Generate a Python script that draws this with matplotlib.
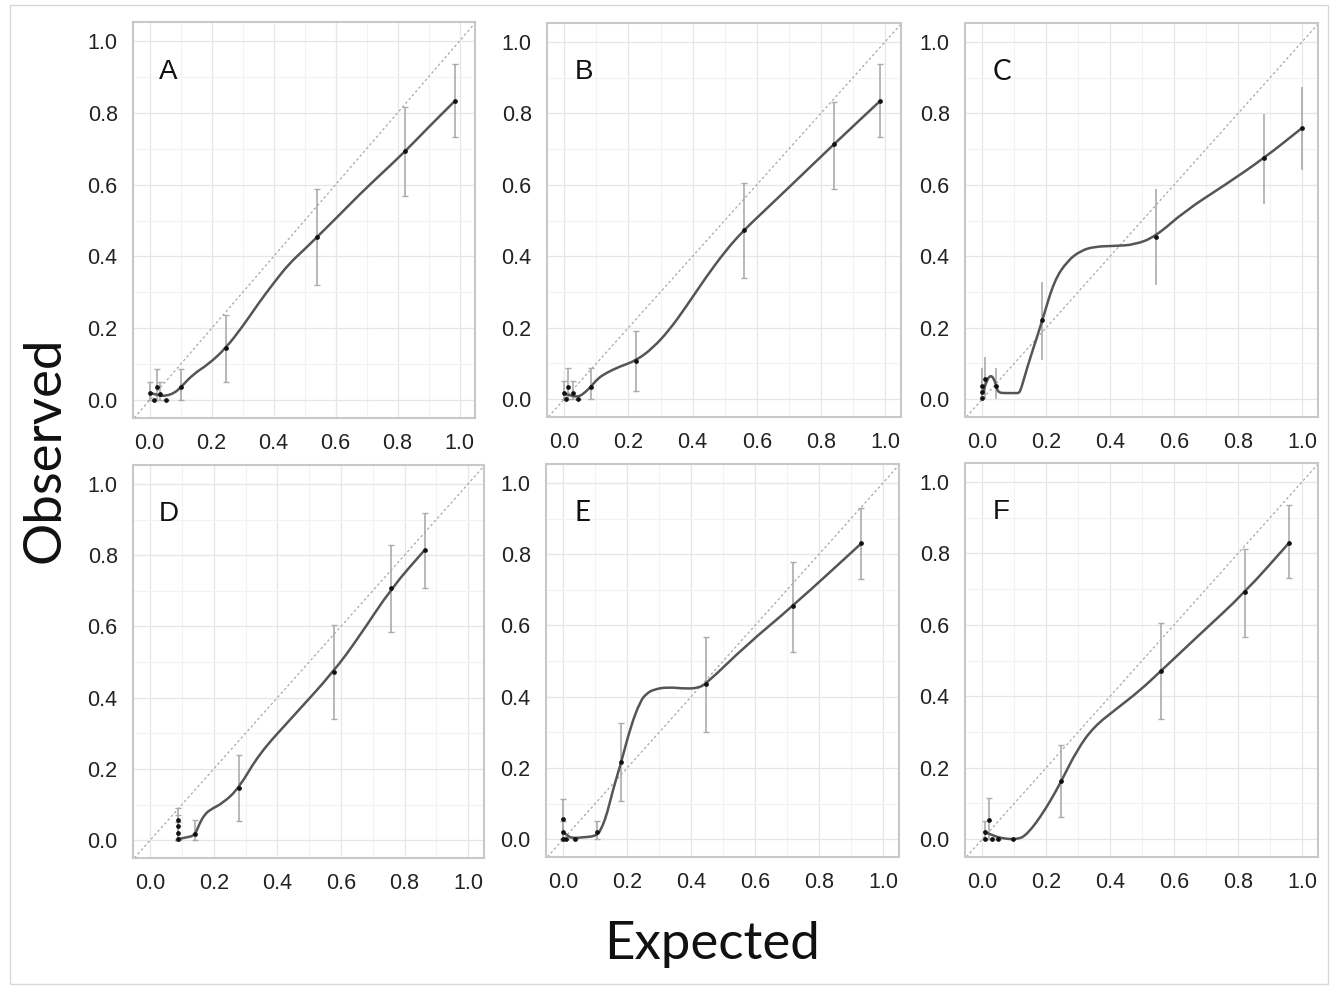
import matplotlib
matplotlib.use("Agg")
import matplotlib.pyplot as plt
from matplotlib.patches import Rectangle, PathPatch
from matplotlib.path import Path
from matplotlib.ticker import MultipleLocator

W, H = 1330, 986

# ---- calibration data, one block per model ----
# points: expected (x), observed (y), CI lower / upper
a_x   = [0.002, 0.022, 0.032, 0.015, 0.052, 0.100, 0.245, 0.540, 0.825, 0.985]
a_obs = [0.019, 0.035, 0.017, 0.000, 0.000, 0.035, 0.144, 0.454, 0.693, 0.833]
a_lo  = [0.000, 0.000, 0.000, 0.000, 0.000, 0.000, 0.049, 0.321, 0.567, 0.733]
a_hi  = [0.050, 0.086, 0.050, 0.000, 0.000, 0.086, 0.238, 0.587, 0.815, 0.936]
a_fit_x = [0.002, 0.03, 0.055, 0.08, 0.100, 0.14, 0.19, 0.245, 0.30, 0.35, 0.40,
           0.45, 0.50, 0.540, 0.60, 0.68, 0.75, 0.825, 0.90, 0.985]
a_fit_y = [0.020, 0.012, 0.012, 0.020, 0.035, 0.072, 0.100, 0.144, 0.205, 0.268, 0.326,
           0.380, 0.420, 0.454, 0.505, 0.575, 0.632, 0.693, 0.760, 0.833]

b_x   = [0.000, 0.013, 0.026, 0.005, 0.042, 0.083, 0.224, 0.560, 0.840, 0.984]
b_obs = [0.017, 0.035, 0.017, 0.000, 0.000, 0.035, 0.108, 0.473, 0.713, 0.834]
b_lo  = [0.000, 0.000, 0.000, 0.000, 0.000, 0.000, 0.024, 0.340, 0.588, 0.734]
b_hi  = [0.050, 0.086, 0.050, 0.000, 0.000, 0.086, 0.192, 0.604, 0.832, 0.937]
b_fit_x = [0.000, 0.02, 0.042, 0.06, 0.083, 0.105, 0.13, 0.172, 0.224, 0.276, 0.328,
           0.380, 0.443, 0.505, 0.560, 0.620, 0.724, 0.840, 0.984]
b_fit_y = [0.015, 0.010, 0.006, 0.015, 0.035, 0.058, 0.073, 0.091, 0.108, 0.143, 0.194,
           0.259, 0.343, 0.418, 0.473, 0.524, 0.613, 0.713, 0.834]

c_x   = [0.000, 0.000, 0.000, 0.008, 0.042, 0.188, 0.542, 0.882, 1.000]
c_obs = [0.003, 0.020, 0.037, 0.056, 0.037, 0.221, 0.455, 0.675, 0.759]
c_lo  = [0.000, 0.000, 0.000, 0.000, 0.000, 0.109, 0.320, 0.545, 0.641]
c_hi  = [0.003, 0.050, 0.086, 0.117, 0.086, 0.327, 0.587, 0.798, 0.875]
c_fit_x = [0.003, 0.012, 0.026, 0.038, 0.045, 0.052, 0.070, 0.090, 0.108, 0.115,
           0.122, 0.140, 0.165, 0.188, 0.225, 0.267, 0.309, 0.351, 0.414, 0.476,
           0.542, 0.634, 0.760, 0.882, 1.000]
c_fit_y = [0.020, 0.050, 0.068, 0.055, 0.030, 0.018, 0.017, 0.017, 0.017, 0.017,
           0.030, 0.087, 0.157, 0.221, 0.332, 0.388, 0.416, 0.427, 0.429, 0.432,
           0.455, 0.527, 0.600, 0.675, 0.759]

d_x   = [0.088, 0.088, 0.088, 0.088, 0.140, 0.279, 0.577, 0.759, 0.863]
d_obs = [0.002, 0.020, 0.039, 0.056, 0.016, 0.146, 0.473, 0.708, 0.814]
d_lo  = [0.000, 0.000, 0.000, 0.000, 0.000, 0.053, 0.339, 0.585, 0.708]
d_hi  = [0.002, 0.050, 0.070, 0.090, 0.056, 0.239, 0.604, 0.828, 0.918]
d_fit_x = [0.088, 0.115, 0.140, 0.156, 0.170, 0.187, 0.229, 0.279, 0.343, 0.447,
           0.577, 0.655, 0.759, 0.863]
d_fit_y = [0.003, 0.008, 0.013, 0.048, 0.070, 0.085, 0.104, 0.146, 0.243, 0.345,
           0.473, 0.568, 0.708, 0.814]

e_x   = [0.000, 0.000, 0.000, 0.007, 0.038, 0.104, 0.182, 0.447, 0.719, 0.932]
e_obs = [0.056, 0.019, 0.000, 0.000, 0.000, 0.019, 0.218, 0.436, 0.655, 0.830]
e_lo  = [0.000, 0.000, 0.000, 0.000, 0.000, 0.000, 0.108, 0.302, 0.525, 0.729]
e_hi  = [0.114, 0.050, 0.000, 0.000, 0.000, 0.052, 0.327, 0.567, 0.779, 0.930]
e_fit_x = [0.000, 0.015, 0.030, 0.060, 0.106, 0.122, 0.137, 0.158, 0.182, 0.210, 0.241,
           0.262, 0.283, 0.324, 0.387, 0.423, 0.447, 0.574, 0.719, 0.932]
e_fit_y = [0.020, 0.008, 0.003, 0.005, 0.009, 0.035, 0.072, 0.147, 0.218, 0.314, 0.388,
           0.410, 0.420, 0.427, 0.422, 0.425, 0.436, 0.546, 0.655, 0.830]

f_x   = [0.007, 0.021, 0.010, 0.031, 0.050, 0.096, 0.247, 0.559, 0.822, 0.960]
f_obs = [0.019, 0.054, 0.000, 0.000, 0.000, 0.000, 0.162, 0.471, 0.691, 0.830]
f_lo  = [0.000, 0.000, 0.000, 0.000, 0.000, 0.000, 0.063, 0.337, 0.566, 0.731]
f_hi  = [0.050, 0.114, 0.000, 0.000, 0.000, 0.000, 0.263, 0.604, 0.813, 0.935]
f_fit_x = [0.007, 0.030, 0.050, 0.075, 0.096, 0.115, 0.130, 0.155, 0.182, 0.215, 0.247,
           0.296, 0.348, 0.420, 0.493, 0.559, 0.680, 0.822, 0.960]
f_fit_y = [0.020, 0.012, 0.005, 0.001, 0.000, 0.002, 0.007, 0.030, 0.063, 0.110, 0.162,
           0.249, 0.314, 0.365, 0.416, 0.471, 0.573, 0.691, 0.830]

panel_labels = ["A", "B", "C", "D", "E", "F"]
tick_values = [0.0, 0.2, 0.4, 0.6, 0.8, 1.0]

# axes boxes in pixels: left, top, right, bottom
boxes = [
    (133, 22, 475, 418), (547, 23, 901, 417), (965, 23, 1318, 417),
    (133, 465, 484, 858), (546, 464, 899, 857), (965, 463, 1318, 857),
]
label_fonts = ["Liberation Sans", "Liberation Sans", "Lato",
               "Liberation Sans", "Lato", "Liberation Sans"]
capsizes = [2.5, 2.5, 0, 2.5, 2.5, 2.5]

panels = [
    (a_x, a_obs, a_lo, a_hi, a_fit_x, a_fit_y),
    (b_x, b_obs, b_lo, b_hi, b_fit_x, b_fit_y),
    (c_x, c_obs, c_lo, c_hi, c_fit_x, c_fit_y),
    (d_x, d_obs, d_lo, d_hi, d_fit_x, d_fit_y),
    (e_x, e_obs, e_lo, e_hi, e_fit_x, e_fit_y),
    (f_x, f_obs, f_lo, f_hi, f_fit_x, f_fit_y),
]


def smooth_path(xs, ys):
    """Quadratic bezier chain: each fit point is a control point, curve
    passes through the midpoints, so corners get rounded off."""
    verts = [(xs[0], ys[0])]
    codes = [Path.MOVETO]
    for k in range(1, len(xs) - 1):
        mid = ((xs[k] + xs[k + 1]) / 2, (ys[k] + ys[k + 1]) / 2)
        verts += [(xs[k], ys[k]), mid]
        codes += [Path.CURVE3, Path.CURVE3]
    verts.append((xs[-1], ys[-1]))
    codes.append(Path.LINETO)
    return Path(verts, codes)


plt.rcParams["font.family"] = ["Liberation Sans", "DejaVu Sans"]

fig = plt.figure(figsize=(W / 100, H / 100), dpi=100)
fig.patch.set_facecolor("white")

# thin outer frame around the whole figure
fig.add_artist(Rectangle((10 / W, 1 - 984 / H), 1318 / W, 979 / H,
                         transform=fig.transFigure, fill=False,
                         edgecolor="#d8d8d8", linewidth=1.0))

for i, (px, py, lo, hi, fx, fy) in enumerate(panels):
    l, t, r, b = boxes[i]
    ax = fig.add_axes([l / W, 1 - b / H, (r - l) / W, (b - t) / H])
    ax.set_xlim(-0.054, 1.05)
    ax.set_ylim(-0.05, 1.053)

    ax.xaxis.set_minor_locator(MultipleLocator(0.1))
    ax.yaxis.set_minor_locator(MultipleLocator(0.1))
    ax.grid(which="major", color="#e6e6e6", linewidth=0.9)
    ax.grid(which="minor", color="#f2f2f2", linewidth=0.8)
    ax.set_axisbelow(True)
    ax.set_xticks(tick_values)
    ax.set_yticks(tick_values)
    ax.set_xticklabels([f"{v:.1f}" for v in tick_values])
    ax.set_yticklabels([f"{v:.1f}" for v in tick_values])
    ax.tick_params(which="both", length=0, labelsize=15.5, labelcolor="#222222")
    ax.tick_params(axis="x", pad=11)
    ax.tick_params(axis="y", pad=11)
    for sp in ax.spines.values():
        sp.set_color("#c8c8c8")
        sp.set_linewidth(1.5)

    # perfect calibration reference
    ax.plot([-0.06, 1.06], [-0.06, 1.06], color="#a8a8a8", lw=0.9,
            linestyle=(0, (2, 2)), zorder=1)

    yerr = [[o - lo_ for o, lo_ in zip(py, lo)], [hi_ - o for o, hi_ in zip(py, hi)]]
    ax.errorbar(px, py, yerr=yerr, fmt="none", ecolor="#ababab", elinewidth=1.2,
                capsize=capsizes[i], capthick=1.0, zorder=2)
    ax.add_patch(PathPatch(smooth_path(fx, fy), facecolor="none",
                           edgecolor="#555555", lw=1.8, capstyle="round",
                           joinstyle="round", zorder=3))
    ax.plot(px, py, "o", color="#111111", markersize=2.4, zorder=4)

    ax.text(0.06, 0.915, panel_labels[i], fontsize=20, family=label_fonts[i],
            ha="center", va="center", color="#111111")

fig.text(45 / W, 1 - 450 / H, "Observed", rotation=90, fontsize=38,
         family="Lato", ha="center", va="center", color="#111111")
fig.text(712 / W, 1 - 945 / H, "Expected", fontsize=38,
         family="Lato", ha="center", va="center", color="#111111")

fig.savefig("out.png", dpi=100, facecolor="white")
